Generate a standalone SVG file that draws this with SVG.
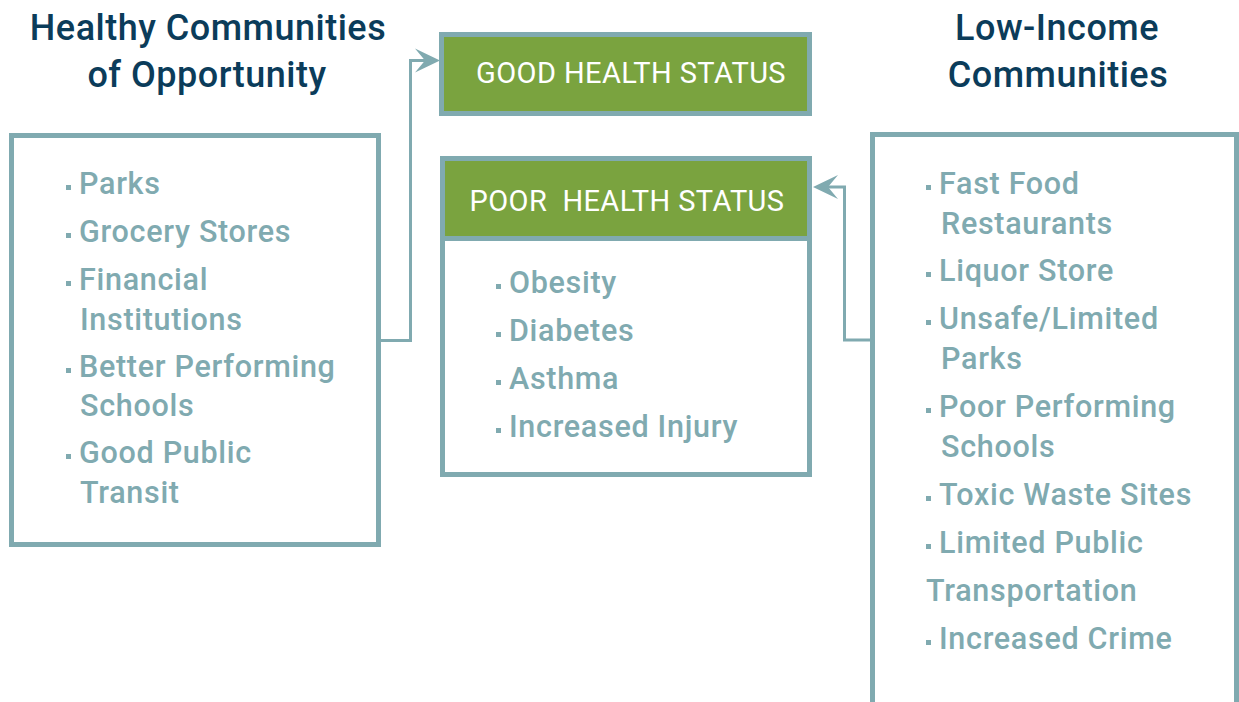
<svg xmlns="http://www.w3.org/2000/svg" width="1239" height="702" viewBox="0 0 1239 702">
<style>
.box{fill:#ffffff;stroke:#80AAB0;stroke-width:5}
.head{fill:#7AA33F;stroke:#80AAB0;stroke-width:5}
.title{font-family:Roboto,"Liberation Sans",sans-serif;font-weight:500;font-size:36px;letter-spacing:0.5px;fill:#0B3C5A;text-anchor:middle}
.status{font-family:Roboto,"Liberation Sans",sans-serif;font-weight:400;font-size:29px;letter-spacing:0.4px;fill:#ffffff;text-anchor:middle}
.item{font-family:Roboto,"Liberation Sans",sans-serif;font-weight:500;font-size:30.5px;letter-spacing:0.7px;fill:#80AAB0}
.bul{fill:#80AAB0}
.conn{fill:none;stroke:#80AAB0;stroke-width:3}
</style>
<defs>
<marker id="arr" viewBox="-11 -13 27 26" refX="0" refY="0" markerWidth="27" markerHeight="26" markerUnits="userSpaceOnUse" orient="auto">
<path d="M15,0 L-10,-12 L0,0 L-10,12 Z" fill="#80AAB0"/>
</marker>
</defs>
<rect width="1239" height="702" fill="#ffffff"/>
<g id="connectors">
<path class="conn" d="M381,340.5 H410.5 V60.5 H425" marker-end="url(#arr)"/>
<path class="conn" d="M870,340 H844.5 V187 H828" marker-end="url(#arr)"/>
</g>
<g id="title-healthy">
<text class="title" x="208" y="40">Healthy Communities</text>
<text class="title" x="207" y="87">of Opportunity</text>
</g>
<g id="title-lowincome">
<text class="title" x="1057" y="40">Low-Income</text>
<text class="title" x="1058" y="87">Communities</text>
</g>
<g id="healthy-box">
<rect class="box" x="11.5" y="135.5" width="367" height="409"/>
<rect class="bul" x="66" y="185" width="5" height="5"/>
<text class="item" x="79" y="194">Parks</text>
<rect class="bul" x="66" y="233" width="5" height="5"/>
<text class="item" x="79" y="242">Grocery Stores</text>
<rect class="bul" x="66" y="281" width="5" height="5"/>
<text class="item" x="79" y="290">Financial</text>
<text class="item" x="80" y="330">Institutions</text>
<rect class="bul" x="66" y="368" width="5" height="5"/>
<text class="item" x="79" y="377">Better Performing</text>
<text class="item" x="80" y="416">Schools</text>
<rect class="bul" x="66" y="454" width="5" height="5"/>
<text class="item" x="79" y="463">Good Public</text>
<text class="item" x="80" y="503">Transit</text>
</g>
<g id="good-health">
<rect class="head" x="441.5" y="34.5" width="368" height="79"/>
<text class="status" x="631" y="83">GOOD HEALTH STATUS</text>
</g>
<g id="poor-health">
<rect class="box" x="442.5" y="158.5" width="367" height="316"/>
<rect x="445" y="161" width="362" height="77" fill="#7AA33F"/>
<line x1="440" y1="238.5" x2="812" y2="238.5" stroke="#80AAB0" stroke-width="5"/>
<text class="status" x="627" y="211" xml:space="preserve">POOR  HEALTH STATUS</text>
<rect class="bul" x="496" y="284" width="5" height="5"/>
<text class="item" x="509" y="293">Obesity</text>
<rect class="bul" x="496" y="332" width="5" height="5"/>
<text class="item" x="509" y="341">Diabetes</text>
<rect class="bul" x="496" y="380" width="5" height="5"/>
<text class="item" x="509" y="389">Asthma</text>
<rect class="bul" x="496" y="428" width="5" height="5"/>
<text class="item" x="509" y="437">Increased Injury</text>
</g>
<g id="lowincome-box">
<rect class="box" x="872.5" y="134.5" width="364" height="620"/>
<rect class="bul" x="926" y="185" width="5" height="5"/>
<text class="item" x="939" y="194">Fast Food</text>
<text class="item" x="941" y="234">Restaurants</text>
<rect class="bul" x="926" y="272" width="5" height="5"/>
<text class="item" x="939" y="281">Liquor Store</text>
<rect class="bul" x="926" y="320" width="5" height="5"/>
<text class="item" x="939" y="329">Unsafe/Limited</text>
<text class="item" x="941" y="369">Parks</text>
<rect class="bul" x="926" y="408" width="5" height="5"/>
<text class="item" x="939" y="417">Poor Performing</text>
<text class="item" x="941" y="457">Schools</text>
<rect class="bul" x="926" y="496" width="5" height="5"/>
<text class="item" x="939" y="505">Toxic Waste Sites</text>
<rect class="bul" x="926" y="544" width="5" height="5"/>
<text class="item" x="939" y="553">Limited Public</text>
<text class="item" x="926" y="601">Transportation</text>
<rect class="bul" x="926" y="640" width="5" height="5"/>
<text class="item" x="939" y="649">Increased Crime</text>
</g>
</svg>
